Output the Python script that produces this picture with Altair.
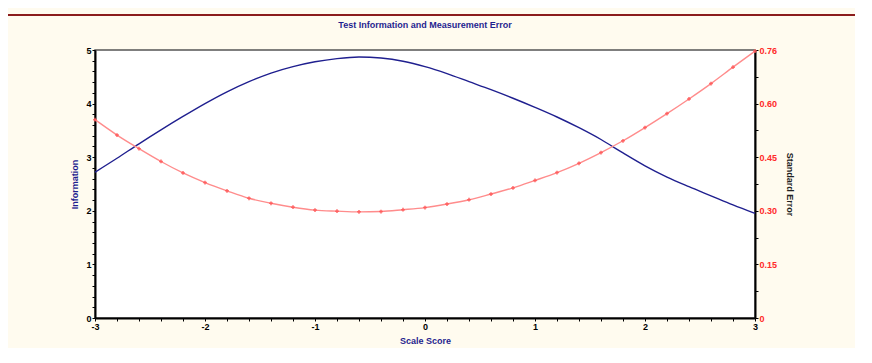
import altair as alt
import pandas as pd

# ---- data ----
scale_score = [-3.0, -2.8, -2.6, -2.4, -2.2, -2.0, -1.8, -1.6, -1.4, -1.2, -1.0,
               -0.8, -0.6, -0.4, -0.2, 0.0, 0.2, 0.4, 0.6, 0.8, 1.0,
               1.2, 1.4, 1.6, 1.8, 2.0, 2.2, 2.4, 2.6, 2.8, 3.0]
information = [2.72, 2.98, 3.25, 3.51, 3.76, 4.00, 4.22, 4.41, 4.57, 4.69, 4.78,
               4.84, 4.87, 4.85, 4.79, 4.69, 4.56, 4.41, 4.26, 4.10, 3.93,
               3.75, 3.55, 3.33, 3.08, 2.84, 2.63, 2.45, 2.28, 2.11, 1.95]
standard_error = [0.555, 0.512, 0.474, 0.438, 0.406, 0.379, 0.356, 0.335, 0.321, 0.310, 0.302,
                  0.299, 0.297, 0.298, 0.303, 0.309, 0.319, 0.331, 0.347, 0.364, 0.385,
                  0.407, 0.433, 0.463, 0.496, 0.533, 0.572, 0.613, 0.656, 0.702, 0.747]
x_tick_labels = ["-3", "-2", "-1", "0", "1", "2", "3"]
info_tick_labels = ["0", "1", "2", "3", "4", "5"]
se_tick_labels = ["0", "0.15", "0.30", "0.45", "0.60", "0.76"]

df = pd.DataFrame({"x": scale_score, "info": information, "se": standard_error})

FONT = "Liberation Sans"
NAVY = "#1f1f8f"
RED = "#ff2a2a"

def arr(lst):
    return "[" + ",".join("'%s'" % s for s in lst) + "]"

x_minor = [round(-3 + 0.2 * i, 1) for i in range(31)]
info_minor = [round(0.2 * i, 1) for i in range(26)]
se_minor = [round(0.075 * i, 3) for i in range(11)]

x_axis = alt.Axis(values=x_minor,
                  labelExpr="abs(datum.value-round(datum.value))<0.01 ? %s[round(datum.value)+3] : ''" % arr(x_tick_labels),
                  title="Scale Score", titleColor=NAVY, titleFont=FONT, titleFontSize=9,
                  titleFontWeight="bold", titlePadding=5,
                  labelFont=FONT, labelFontSize=9, labelFontWeight="bold", labelColor="#000",
                  labelPadding=1, labelOverlap=False, labelFlush=False,
                  domainColor="#000", domainWidth=2, tickColor="#000", tickSize=3,
                  grid=False)
x_scale = alt.Scale(domain=[-3, 3], nice=False, zero=False)

def x_enc():
    return alt.X("x:Q", scale=x_scale, axis=x_axis)

blue = alt.Chart(df).mark_line(color=NAVY, strokeWidth=1.4, interpolate="monotone").encode(
    x=x_enc(),
    y=alt.Y("info:Q", scale=alt.Scale(domain=[0, 5], nice=False),
            axis=alt.Axis(values=info_minor, orient="left",
                          labelExpr="abs(datum.value-round(datum.value))<0.01 ? %s[round(datum.value)] : ''" % arr(info_tick_labels),
                          title="Information", titleColor=NAVY, titleFont=FONT, titleFontSize=9,
                          titleFontWeight="bold", titlePadding=6,
                          labelFont=FONT, labelFontSize=9, labelFontWeight="bold", labelColor="#000",
                          labelPadding=1, labelOverlap=False, labelFlush=False,
                          domainColor="#000", domainWidth=2, tickColor="#000", tickSize=3,
                          grid=False)),
)

se_scale = alt.Scale(domain=[0, 0.75], nice=False)

red_line = alt.Chart(df).mark_line(color="#ff8c8c", strokeWidth=1.4, interpolate="monotone").encode(
    x=x_enc(),
    y=alt.Y("se:Q", scale=se_scale,
            axis=alt.Axis(values=se_minor, orient="right",
                          labelExpr="abs(datum.value/0.15-round(datum.value/0.15))<0.01 ? %s[round(datum.value/0.15)] : ''" % arr(se_tick_labels),
                          title="Standard Error", titleColor="#222", titleFont=FONT, titleFontSize=9,
                          titleFontWeight="bold", titleAngle=90, titlePadding=8,
                          labelFont=FONT, labelFontSize=9, labelFontWeight="bold", labelColor=RED,
                          labelPadding=1, labelOverlap=False, labelFlush=False,
                          domainColor="#000", domainWidth=2, tickColor="#000", tickSize=3,
                          grid=False)),
)

red_pts = alt.Chart(df).mark_point(shape="cross", size=14, filled=True, color="#ff5a5a", opacity=0.9).encode(
    x=x_enc(),
    y=alt.Y("se:Q", scale=se_scale, axis=None),
)

# decorative frame: dark red top border
frame = alt.Chart(pd.DataFrame({"a": [0]})).mark_rule(color="#8b1c1c", strokeWidth=2).encode(
    x=alt.value(-91), x2=alt.value(780), y=alt.value(-35))

chart = alt.layer(frame, blue, red_line, red_pts).resolve_scale(y="independent").properties(
    width=660, height=268,
    title=alt.TitleParams("Test Information and Measurement Error", font=FONT, fontSize=9,
                          fontWeight="bold", color=NAVY, anchor="middle", offset=-16, frame="group"),
    padding={"left": 87, "top": 42, "right": 100, "bottom": 30},
    autosize=alt.AutoSizeParams(type="none"),
    background="#fffbef",
).configure_view(fill="white", stroke="#555555", strokeWidth=1.5)

chart.save("out.html", embed_options={"renderer": "svg", "actions": False})
